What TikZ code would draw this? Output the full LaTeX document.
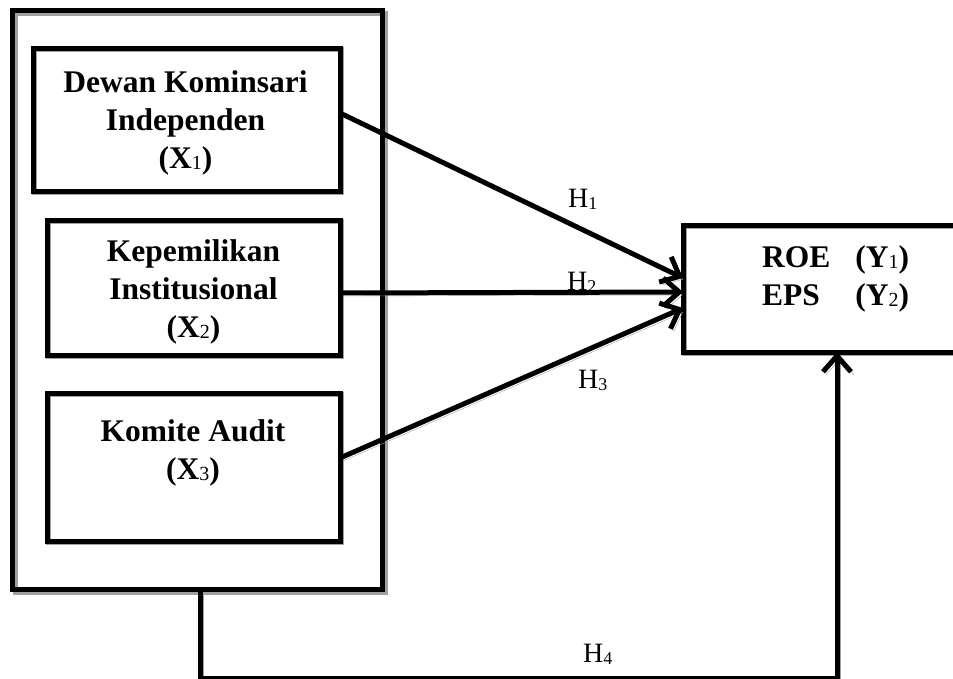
\documentclass[tikz,border=0pt]{standalone}
\usepackage{fontspec}
\setmainfont{Liberation Serif}
\usetikzlibrary{arrows.meta}
\definecolor{shadowgray}{HTML}{A0A0A0}
\newcommand\subdig[1]{\raisebox{-1.5pt}{\fontsize{20}{20}\selectfont\mdseries #1}}
\newcommand\hsub[1]{\raisebox{-2pt}{\fontsize{18}{18}\selectfont #1}}
\begin{document}
\begin{tikzpicture}[x=1pt,y=-1pt,
  shd/.style={preaction={draw=shadowgray, transform canvas={shift={(3pt,-3pt)}}}},
  shdlight/.style={preaction={draw=shadowgray, transform canvas={shift={(1.5pt,-1.5pt)}}}},
  outerbox/.style={draw, line width=5pt, outer sep=0pt, inner sep=0pt, shd},
  boxnode/.style={draw, line width=5pt, outer sep=0pt, inner sep=0pt, shdlight},
  lbl/.style={font=\fontsize{31.5}{38}\selectfont\bfseries, inner sep=0pt},
  hyp/.style={font=\fontsize{28}{28}\selectfont, inner sep=0pt, anchor=base west},
  arr/.style={line width=5pt, line join=miter, -{Straight Barb[length=16pt,width=28pt]}, shd}]
\useasboundingbox (0,0) rectangle (953,678);

% boxes
\node[outerbox, minimum width=370pt, minimum height=579pt] (outer) at (197,299.5) {};
\node[boxnode, minimum width=307pt, minimum height=143pt] (box1) at (186.5,119.5) {};
\node[boxnode, minimum width=293pt, minimum height=135pt] (box2) at (193.5,287.5) {};
\node[boxnode, minimum width=293pt, minimum height=148pt] (box3) at (193.5,467) {};
\node[boxnode, minimum width=292pt, minimum height=127pt] (roe) at (829,288.5) {};

% texts
\node[lbl, anchor=base] (t1) at (185.5,92) {\begin{tabular}[t]{@{}c@{}}Dewan Kominsari\\Independen\\(X\subdig{1})\end{tabular}};
\node[lbl, anchor=base] (t2) at (193.5,261) {\begin{tabular}[t]{@{}c@{}}Kepemilikan\\Institusional\\(X\subdig{2})\end{tabular}};
\node[lbl, anchor=base] (t3) at (193,441) {\begin{tabular}[t]{@{}c@{}}Komite Audit\\(X\subdig{3})\end{tabular}};
\node[lbl, anchor=base west] (tr) at (762,267) {\begin{tabular}[t]{@{}l@{\hspace{25pt}}l@{}}ROE & (Y\subdig{1})\\EPS & (Y\subdig{2})\end{tabular}};

% hypothesis labels
\node[hyp] (h1) at (568,207) {H\hsub{1}};
\node[hyp] (h2) at (567,290) {H\hsub{2}};
\node[hyp] (h3) at (578,388) {H\hsub{3}};
\node[hyp] (h4) at (583,662) {H\hsub{4}};

% connectors
\draw[arr] ([yshift=6.5pt]box1.east) -- ([yshift=10.5pt]roe.west);
\draw[arr] ([yshift=-5.5pt]box2.east) -- ([yshift=-3.5pt]roe.west);
\draw[arr] ([yshift=9pt]box3.east) -- ([yshift=-19.5pt]roe.west);
\draw[arr] ([xshift=3pt]outer.south) -- ++(0,89) -| ([xshift=8pt]roe.south);
\end{tikzpicture}
\end{document}
